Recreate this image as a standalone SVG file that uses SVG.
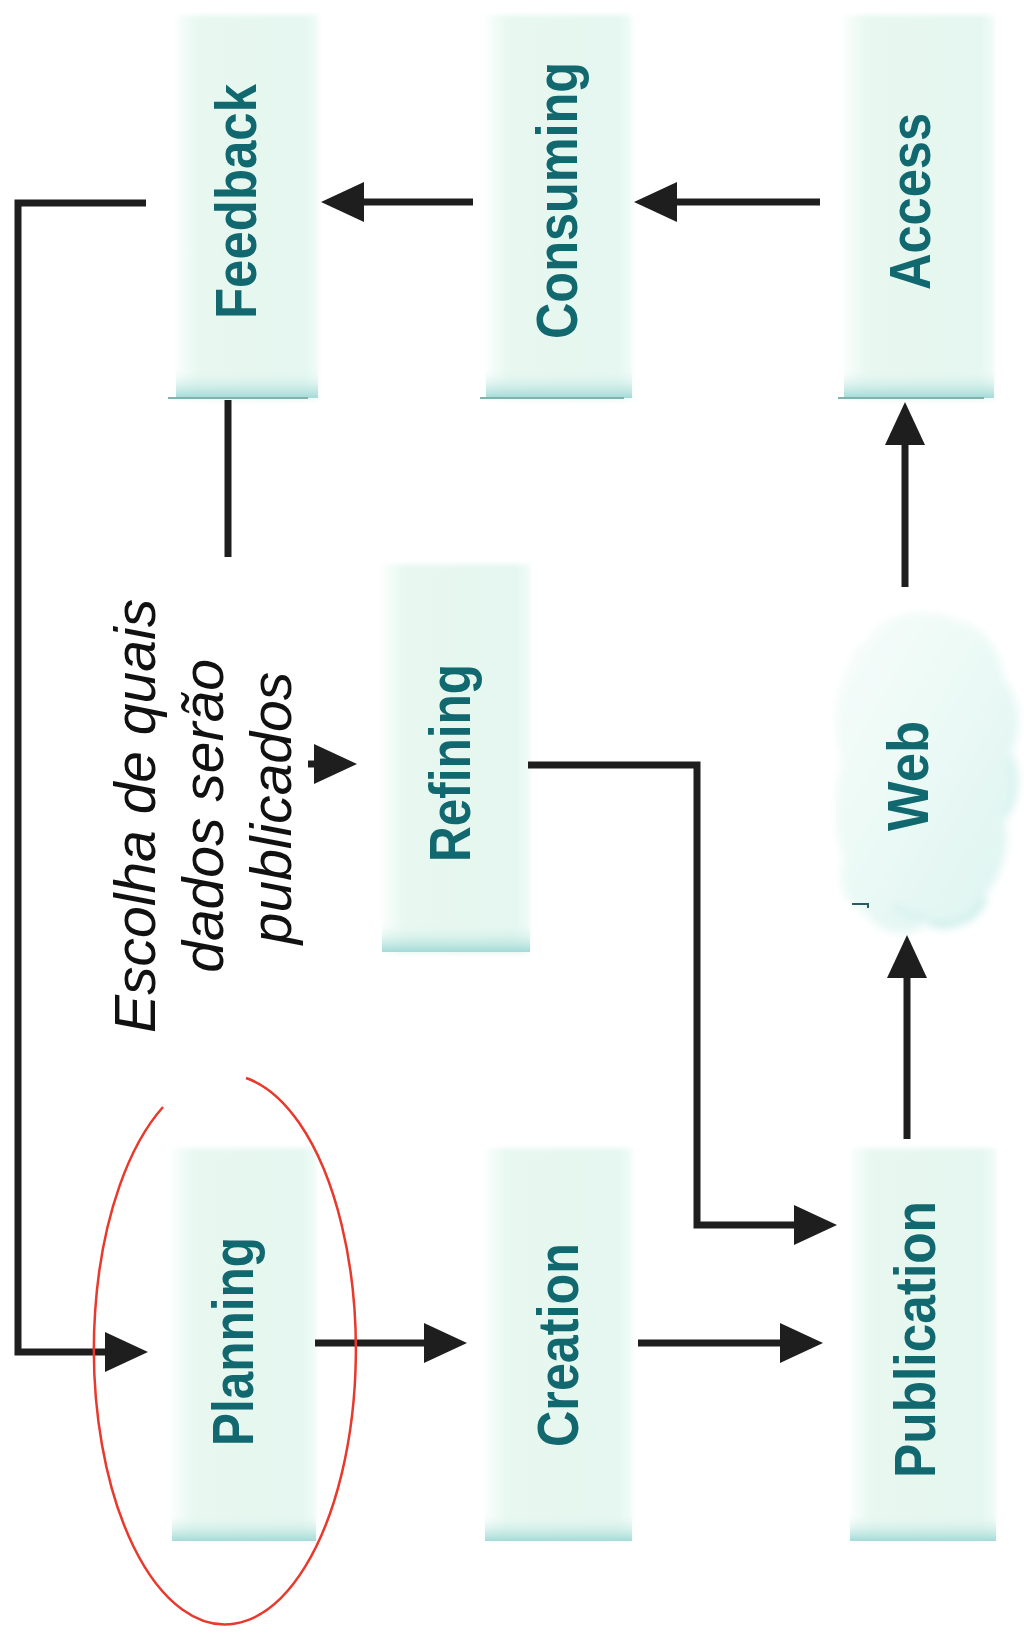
<svg xmlns="http://www.w3.org/2000/svg" width="1024" height="1639" viewBox="0 0 1024 1639">
<style>
.lbl{font-family:"Liberation Sans",Arial,sans-serif;font-weight:bold;font-size:57px;fill:#12686f}
.note{font-family:"Liberation Sans",Arial,sans-serif;font-style:italic;font-size:57px;fill:#111}
.conn{fill:none;stroke:#1e1e1e;stroke-width:7;stroke-linejoin:miter}
.box{fill:url(#boxGrad);filter:url(#soft)}
.shade{fill:url(#shadeGrad)}
.edge{stroke:#7fb3ae;stroke-width:2;fill:none}
</style>
<defs>
<linearGradient id="boxGrad" x1="0" y1="0" x2="1" y2="0">
<stop offset="0" stop-color="#fafefc"/>
<stop offset="0.15" stop-color="#e8f8f1"/>
<stop offset="0.9" stop-color="#e4f7f0"/>
<stop offset="1" stop-color="#f0fbf7"/>
</linearGradient>
<linearGradient id="shadeGrad" x1="0" y1="0" x2="0" y2="1">
<stop offset="0" stop-color="#e3f6ef" stop-opacity="0"/>
<stop offset="1" stop-color="#a3dad7"/>
</linearGradient>
<linearGradient id="cloudGrad" x1="0" y1="0" x2="1" y2="1">
<stop offset="0" stop-color="#f8fdfb"/>
<stop offset="0.5" stop-color="#eaf9f5"/>
<stop offset="1" stop-color="#dcf4f0"/>
</linearGradient>
<filter id="soft" x="-10%" y="-5%" width="120%" height="110%"><feGaussianBlur stdDeviation="2.5"/></filter>
<filter id="cloudSoft" x="-10%" y="-10%" width="120%" height="120%"><feGaussianBlur stdDeviation="4"/></filter>
<marker id="arr" markerUnits="userSpaceOnUse" markerWidth="44" markerHeight="40" refX="20" refY="20" orient="auto">
<path d="M0,0 L43,20 L0,40 Z" fill="#1e1e1e"/>
</marker>
</defs>

<g id="node-feedback">
<rect class="box" x="176" y="15" width="142" height="385"/>
<rect class="shade" x="176" y="370" width="142" height="28"/>
<path class="edge" d="M168,398 L308,398"/>
<text class="lbl" transform="translate(256,202) rotate(-90)" x="-117" textLength="235" lengthAdjust="spacingAndGlyphs">Feedback</text>
</g>
<g id="node-consuming">
<rect class="box" x="486" y="15" width="146" height="385"/>
<rect class="shade" x="486" y="370" width="146" height="28"/>
<path class="edge" d="M480,398 L624,398"/>
<text class="lbl" transform="translate(577,201) rotate(-90)" x="-138" textLength="277" lengthAdjust="spacingAndGlyphs">Consuming</text>
</g>
<g id="node-access">
<rect class="box" x="844" y="15" width="150" height="385"/>
<rect class="shade" x="844" y="370" width="150" height="28"/>
<path class="edge" d="M838,398 L984,398"/>
<text class="lbl" transform="translate(930,202) rotate(-90)" x="-88" textLength="177" lengthAdjust="spacingAndGlyphs">Access</text>
</g>
<g id="node-refining">
<rect class="box" x="382" y="564" width="148" height="390"/>
<rect class="shade" x="382" y="924" width="148" height="28"/>
<text class="lbl" transform="translate(470,763) rotate(-90)" x="-99" textLength="198" lengthAdjust="spacingAndGlyphs">Refining</text>
</g>
<g id="node-web">
<g filter="url(#cloudSoft)">
<path d="M868,640 C880,612 930,605 960,622 C990,630 1000,655 1004,680 C1022,700 1022,730 1012,750 C1024,775 1020,805 1005,820 C1010,850 1000,880 985,895 C975,925 945,935 925,925 C905,940 875,932 865,912 C845,905 835,880 845,860 C832,830 834,790 842,760 C832,730 834,690 848,670 C850,655 858,645 868,640 Z" fill="url(#cloudGrad)"/>
<path d="M985,898 C975,922 950,930 930,922" fill="none" stroke="#c6ece8" stroke-width="5"/>
<path d="M1008,760 C1016,780 1014,800 1004,815" fill="none" stroke="#d3f1ed" stroke-width="4"/>
<path d="M895,905 C905,915 915,918 925,915" fill="none" stroke="#cdeeea" stroke-width="4"/>
</g>
<path d="M852,904 L868,904 L868,908" fill="none" stroke="#2d5a5e" stroke-width="2"/>
<text class="lbl" transform="translate(928,776) rotate(-90)" x="-55" textLength="110" lengthAdjust="spacingAndGlyphs">Web</text>
</g>
<g id="node-planning">
<rect class="box" x="172" y="1148" width="144" height="393"/>
<rect class="shade" x="172" y="1515" width="144" height="26"/>
<text class="lbl" transform="translate(253,1342) rotate(-90)" x="-104" textLength="209" lengthAdjust="spacingAndGlyphs">Planning</text>
</g>
<g id="node-creation">
<rect class="box" x="485" y="1148" width="147" height="393"/>
<rect class="shade" x="485" y="1515" width="147" height="26"/>
<text class="lbl" transform="translate(578,1345) rotate(-90)" x="-102" textLength="204" lengthAdjust="spacingAndGlyphs">Creation</text>
</g>
<g id="node-publication">
<rect class="box" x="850" y="1148" width="146" height="393"/>
<rect class="shade" x="850" y="1515" width="146" height="26"/>
<text class="lbl" transform="translate(935,1340) rotate(-90)" x="-138" textLength="277" lengthAdjust="spacingAndGlyphs">Publication</text>
</g>

<g id="note">
<text class="note" transform="translate(155,808) rotate(-90)" text-anchor="middle">
<tspan x="0" y="0">Escolha de quais</tspan>
<tspan x="0" y="68">dados serão</tspan>
<tspan x="0" y="136">publicados</tspan>
</text>
</g>

<g id="connectors">
<path class="conn" d="M473,202 L344,202" marker-end="url(#arr)"/>
<path class="conn" d="M820,202 L657,202" marker-end="url(#arr)"/>
<path class="conn" d="M905,587 L905,425" marker-end="url(#arr)"/>
<path class="conn" d="M907,1139 L907,958" marker-end="url(#arr)"/>
<path class="conn" d="M315,1343 L444,1343" marker-end="url(#arr)"/>
<path class="conn" d="M638,1343 L800,1343" marker-end="url(#arr)"/>
<path class="conn" d="M528,765 L697,765 L697,1225 L814,1225" marker-end="url(#arr)"/>
<path class="conn" d="M146,203 L18,203 L18,1352 L125,1352" marker-end="url(#arr)"/>
<path class="conn" d="M228,400 L228,557"/>
<path class="conn" d="M308,764 L334,764" marker-end="url(#arr)"/>
</g>

<g id="highlight">
<path d="M246,1078 A131,275 0 1 1 163,1107" fill="none" stroke="#e8392c" stroke-width="2.5"/>
</g>
</svg>
